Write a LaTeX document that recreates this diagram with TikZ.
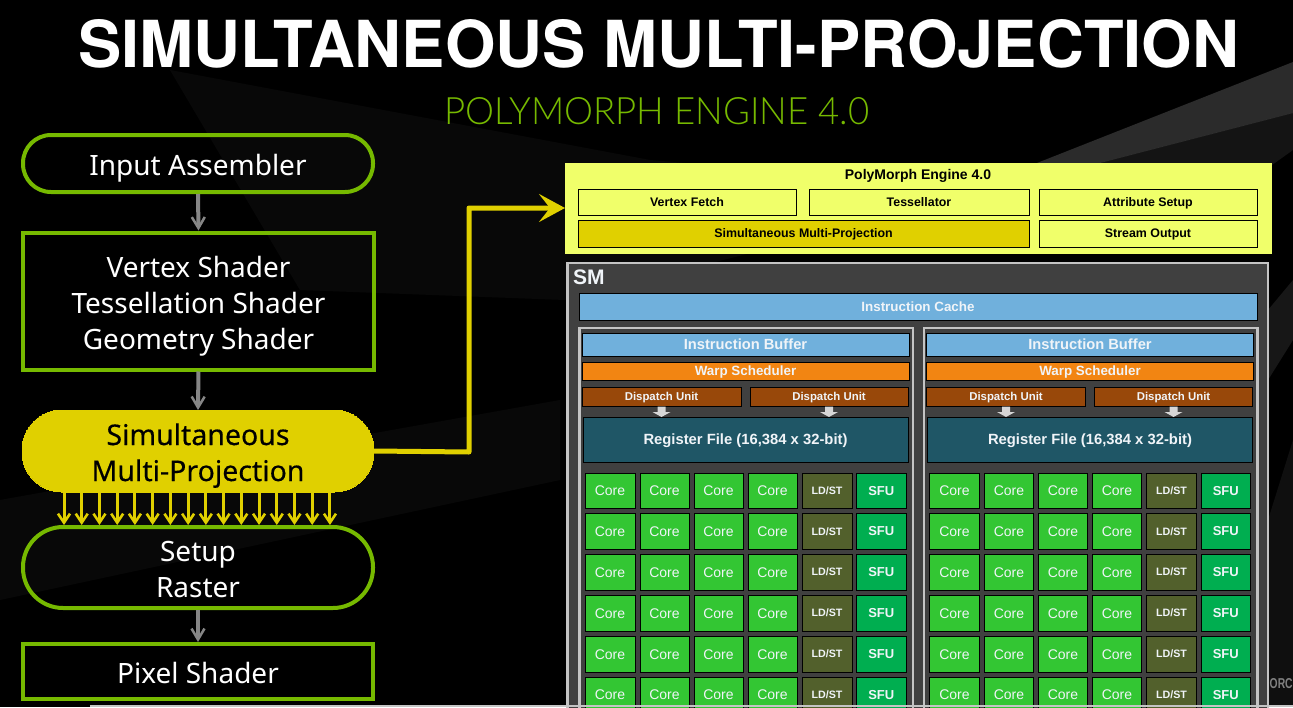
\documentclass[tikz,border=0pt]{standalone}
\usepackage{fontspec}
\setmainfont{Liberation Sans}
\newfontfamily\titlefont{TeX Gyre Heros}
\newfontfamily\subfont{Lato Light}
\newfontfamily\flowfont{Noto Sans}
\newfontfamily\flowbold[FakeBold=0.35]{Noto Sans}
\usetikzlibrary{arrows.meta,calc}
\definecolor{nvgreen}{HTML}{76B900}
\definecolor{smpyellow}{HTML}{E0D000}
\definecolor{polybg}{HTML}{F0FF6A}
\definecolor{smgray}{HTML}{404040}
\definecolor{smline}{HTML}{C4C4C4}
\definecolor{cacheblue}{HTML}{70B0DC}
\definecolor{warp}{HTML}{F28512}
\definecolor{dispatch}{HTML}{98480A}
\definecolor{regfile}{HTML}{1F5666}
\definecolor{coregreen}{HTML}{33C633}
\definecolor{ldst}{HTML}{52602C}
\definecolor{sfu}{HTML}{00AE50}
\definecolor{softwhite}{HTML}{F0F4F8}
\newcommand{\fs}[1]{\fontsize{#1}{#1}\selectfont}
\newcommand{\tp}{\rule{0pt}{32pt}}
\newcommand{\bt}{\rule[-8pt]{0pt}{8pt}}
\newcommand{\pbox}[7]{% name,x1,y1,x2,y2,style,text
  \node[#6,minimum width={((#4)-(#2))*1pt},minimum height={((#5)-(#3))*1pt}] (#1) at ({((#2)+(#4))/2},{((#3)+(#5))/2}) {#7};}
\tikzset{
  x=1pt,y=-1pt,
  flow/.style={draw=nvgreen,line width=4pt,inner sep=0pt,outer sep=0pt,text=white,align=center,font=\flowfont\fontsize{28}{36}\selectfont},
  flowpill/.style={flow,rounded corners=28pt},
  flowsmp/.style={flow,draw=smpyellow,fill=smpyellow,text=black,line width=0pt,rounded corners=40pt,font=\flowbold\fontsize{28.5}{36}\selectfont},
  pipe/.style={draw=gray!95,line width=4pt,-{Straight Barb[length=11pt,width=13pt,line width=2.5pt]}},
  fan/.style={draw=smpyellow,line width=3pt,-{Straight Barb[length=9pt,width=12pt,line width=2.6pt]}},
  feed/.style={draw=smpyellow,line width=5pt,line join=round,-{Stealth[length=26pt,width=28pt,inset=11pt]}},
  cell/.style={draw=black,line width=1pt,inner sep=0pt,outer sep=0pt,text depth=0pt},
  bsz/.style={font=\bfseries\fs{#1},text height=#1*.72pt},
  rsz/.style={font=\fs{#1},text height=#1*.72pt},
  polycell/.style={cell,fill=polybg,text=black,bsz=12.4},
  blue/.style={cell,fill=cacheblue,text=softwhite},
  panel/.style={draw=smline,line width=2.4pt,fill=smgray,inner sep=0pt,outer sep=0pt},
  corec/.style={cell,fill=coregreen,text=softwhite,rsz=14},
  ldstc/.style={cell,fill=ldst,text=softwhite,bsz=10.7},
  sfuc/.style={cell,fill=sfu,text=softwhite,bsz=13},
  whitearrow/.style={fill=smline!70!white,draw=none},
}
\newcommand{\shaderblock}[2]{% prefix, x offset
  \pbox{#1panel}{579.5+#2}{328}{913+#2}{730}{panel}{}
  \pbox{#1ib}{582+#2}{333}{909+#2}{356}{blue,bsz=14.7}{Instruction Buffer}
  \pbox{#1ws}{582+#2}{362}{909+#2}{380}{cell,fill=warp,text=softwhite,bsz=13.4}{Warp Scheduler}
  \pbox{#1du1}{582+#2}{387}{741+#2}{406}{cell,fill=dispatch,text=softwhite,bsz=11.4}{Dispatch Unit}
  \pbox{#1du2}{750+#2}{387}{908+#2}{406}{cell,fill=dispatch,text=softwhite,bsz=11.4}{Dispatch Unit}
  \pbox{#1rf}{583+#2}{417}{908+#2}{462}{cell,fill=regfile,text=softwhite,bsz=14.8}{Register File (16,384 x 32-bit)}
  \foreach \cx in {661.5,829}{
    \fill[whitearrow] ({\cx+#2-4},406.5) -- ({\cx+#2+4},406.5) -- ({\cx+#2+4},412) -- ({\cx+#2+9},412) -- ({\cx+#2},417) -- ({\cx+#2-9},412) -- ({\cx+#2-4},412) -- cycle;
  }
  \foreach \ya/\yb/\r in {473/508.5/1,513.5/549/2,554/590/3,595/631/4,636/672/5,677/712/6}{
    \foreach \xa/\xb/\c in {585/635/1,640/689/2,694/743/3,748/797/4}{
      \pbox{#1c\r\c}{\xa+#2}{\ya}{\xb+#2}{\yb}{corec}{Core}
    }
    \pbox{#1l\r}{802+#2}{\ya}{852+#2}{\yb}{ldstc}{LD/ST}
    \pbox{#1s\r}{856.5+#2}{\ya}{906+#2}{\yb}{sfuc}{SFU}
  }
}
\begin{document}
\begin{tikzpicture}
\useasboundingbox (0,0) rectangle (1293,707);
\clip (0,0) rectangle (1293,707);
\fill[black] (0,0) rectangle (1293,707);
% faint background
\fill[white,opacity=.03] (170,70) -- (650,160) -- (1000,190) -- (565,300) -- (300,290) -- cycle;
\fill[white,opacity=.17] (1037,163) -- (1293,62) -- (1293,113) -- (1100,163) -- cycle;
\fill[white,opacity=.08] (1100,163) -- (1293,113) -- (1293,150) -- (1272,165) -- cycle;
\fill[white,opacity=.03] (0,500) -- (560,400) -- (560,480) -- (0,600) -- cycle;
\fill[white,opacity=.09] (1268,310) -- (1293,280) -- (1293,340) -- (1268,380) -- cycle;
\fill[white,opacity=.06] (1268,520) -- (1293,440) -- (1293,707) -- (1268,707) -- cycle;
\node[anchor=base west,inner sep=0pt,text=gray] (brand) at (1269.5,688) {\resizebox{23pt}{10pt}{\bfseries ORC}};
% title
\node[anchor=base west,inner sep=0pt,text=white] (title) at (78,67) {\resizebox{1160pt}{48pt}{\titlefont\bfseries SIMULTANEOUS MULTI-PROJECTION}};
\node[anchor=base west,inner sep=0pt,text=nvgreen] (sub) at (444,124) {\resizebox{425pt}{27pt}{\subfont POLYMORPH ENGINE 4.0}};
% flow
\pbox{ia}{23}{135}{373}{192}{flowpill}{\tp Input Assembler\bt}
\pbox{vs}{23}{232.5}{374}{369.5}{flow}{\tp Vertex Shader\\Tessellation Shader\\Geometry Shader\bt}
\pbox{smp}{22}{410}{374}{492}{flowsmp}{\tp Simultaneous\\Multi-Projection\bt}
\pbox{sr}{23}{527}{373}{608}{flowpill,rounded corners=40pt}{\tp Setup\\Raster\bt}
\pbox{ps}{23}{644}{373}{699}{flow}{\tp Pixel Shader\bt}
\draw[pipe,shorten <=2pt,shorten >=2pt] (ia.south) -- (vs.north);
\draw[pipe,shorten <=2pt] (vs.south) -- (smp.north);
\draw[pipe,shorten <=2pt,shorten >=2pt] (sr.south) -- (ps.north);
\foreach \i in {0,...,15}{
  \coordinate (fa\i) at ({64+17.73*\i},492);
  \coordinate (fb\i) at ({64+17.73*\i},525);
  \draw[fan] (fa\i) -- (fb\i);
}
% poly panel
\pbox{poly}{565}{163}{1272}{254}{fill=polybg,inner sep=0pt,outer sep=0pt}{}
\node[bsz=14,text=black,inner sep=0pt,text depth=0pt] (polyt) at (918,174) {PolyMorph Engine 4.0};
\pbox{vf}{578}{189}{796}{215}{polycell}{Vertex Fetch}
\pbox{tess}{809}{189}{1029}{215}{polycell}{Tessellator}
\pbox{attr}{1039}{189}{1257}{215}{polycell}{Attribute Setup}
\pbox{smpc}{578}{220}{1029}{247}{polycell,fill=smpyellow}{Simultaneous Multi-Projection}
\pbox{so}{1039}{220}{1257}{247}{polycell}{Stream Output}
\coordinate (feedin) at (565,208);
\draw[feed] (smp.east) -- (469,452) -- (469,208) -- (feedin);
% SM
\pbox{sm}{567.5}{263}{1268}{730}{panel}{}
\node[anchor=base west,font=\bfseries\fs{21},text=softwhite,inner sep=0pt] (smt) at (573,284) {SM};
\pbox{ic}{579}{293}{1257}{320}{blue,bsz=13.4}{Instruction Cache}
\shaderblock{a}{0}
\shaderblock{b}{344.5}
\fill[smline] (90,705.2) rectangle (1293,707);
\end{tikzpicture}
\end{document}
